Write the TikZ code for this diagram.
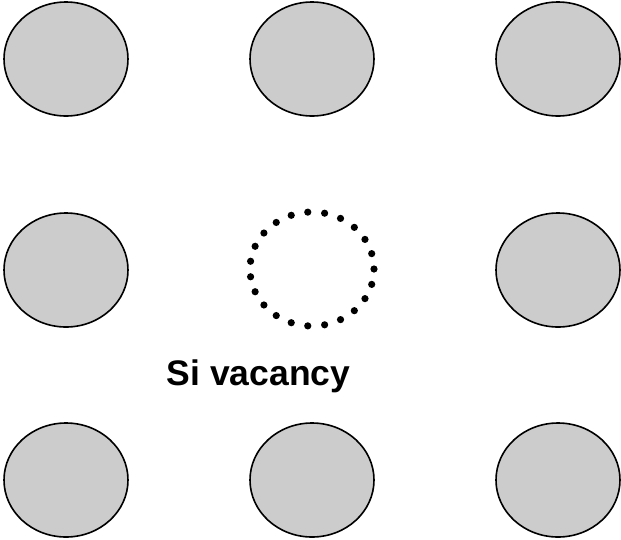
\documentclass[tikz,border=0pt]{standalone}
\usepackage{fontspec}
\setmainfont{Liberation Sans}
\usetikzlibrary{shapes.geometric}
\definecolor{atomgray}{RGB}{204,204,204}
\begin{document}
\begin{tikzpicture}[x=1pt,y=-1pt,
  atom/.style={ellipse,draw=black,line width=1.6pt,fill=atomgray,
    minimum width=124pt,minimum height=114pt,inner sep=0pt},
  vacancy/.style={ellipse,minimum width=124pt,minimum height=114pt,inner sep=0pt},
  label/.style={font=\bfseries\fontsize{35.5}{40}\selectfont,anchor=base,inner sep=0pt}]
\useasboundingbox (0,0) rectangle (621,539);
% lattice sites
\node[atom] (a11) at (66,59) {};
\node[atom] (a12) at (312,59) {};
\node[atom] (a13) at (558,59) {};
\node[atom] (a21) at (66,270) {};
\node[vacancy] (v) at (312,269) {};
\node[atom] (a23) at (558,270) {};
\node[atom] (a31) at (66,480) {};
\node[atom] (a32) at (312,480) {};
\node[atom] (a33) at (558,480) {};
% ring of dots marking the empty site
\foreach \k in {0,...,22}
  \fill[black] (v.center) ++({360/23*\k}:62pt and 57pt) circle (3.6pt);
% caption of the empty site
\node[label] (lbl) at (258.5,385) {Si vacancy};
\end{tikzpicture}
\end{document}
